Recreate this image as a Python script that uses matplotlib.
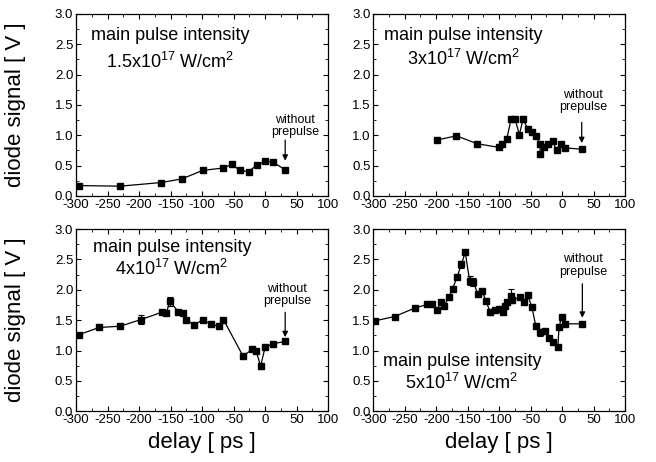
import matplotlib
matplotlib.use("Agg")
import matplotlib.pyplot as plt
from matplotlib.ticker import MultipleLocator

plt.rcParams['font.family'] = ['Liberation Sans', 'DejaVu Sans']
plt.rcParams['mathtext.default'] = 'regular'
plt.rcParams['axes.unicode_minus'] = False

# panel 1: 1.5x10^17 W/cm^2
x1 = [-296, -230, -165, -132, -99, -66, -53, -40, -26, -13, 0, 12, 32]
y1 = [0.17, 0.16, 0.22, 0.28, 0.42, 0.46, 0.52, 0.42, 0.40, 0.51, 0.57, 0.56, 0.43]
e1 = [0, 0, 0, 0, 0, 0, 0, 0.04, 0, 0, 0, 0, 0]

# panel 2: 3x10^17 W/cm^2
x2 = [-199, -168, -135, -101, -95, -88, -81, -75, -68, -62, -55, -48, -42, -35, -35,
      -29, -22, -15, -9, -2, 5, 31]
y2 = [0.92, 0.99, 0.86, 0.80, 0.86, 0.94, 1.27, 1.27, 1.01, 1.27, 1.11, 1.05, 0.99, 0.86, 0.69,
      0.80, 0.86, 0.90, 0.75, 0.85, 0.79, 0.77]
e2 = [0, 0, 0, 0, 0, 0, 0, 0, 0, 0.05, 0, 0, 0, 0, 0.03,
      0, 0, 0, 0, 0, 0, 0]

# panel 3: 4x10^17 W/cm^2
x3 = [-296, -263, -230, -197, -164, -157, -151, -138, -131, -125, -112, -99, -86, -73, -66,
      -35, -20, -14, -7, 0, 12, 32]
y3 = [1.26, 1.38, 1.40, 1.51, 1.63, 1.61, 1.81, 1.64, 1.62, 1.51, 1.42, 1.51, 1.43, 1.40, 1.51,
      0.91, 1.02, 0.99, 0.74, 1.05, 1.11, 1.15]
e3 = [0, 0, 0, 0.07, 0, 0, 0.07, 0, 0, 0, 0, 0, 0, 0, 0,
      0, 0, 0, 0.04, 0, 0, 0]

# panel 4: 5x10^17 W/cm^2
x4 = [-297, -266, -234, -214, -207, -199, -193, -187, -180, -174, -167, -160, -154, -147,
      -141, -134, -127, -121, -114, -107, -101, -94, -91, -87, -82, -79, -67, -61, -55,
      -48, -42, -35, -28, -21, -14, -7, -5, -1, 4, 32]
y4 = [1.49, 1.56, 1.70, 1.76, 1.76, 1.66, 1.80, 1.74, 1.88, 2.02, 2.21, 2.42, 2.62, 2.15,
      2.13, 1.93, 1.98, 1.81, 1.63, 1.66, 1.69, 1.63, 1.74, 1.80, 1.90, 1.83, 1.88, 1.80, 1.92,
      1.71, 1.41, 1.30, 1.32, 1.21, 1.14, 1.05, 1.38, 1.56, 1.44, 1.44]
e4 = [0, 0, 0, 0, 0, 0, 0, 0, 0, 0, 0, 0.06, 0, 0.07,
      0.06, 0, 0, 0, 0.05, 0, 0, 0, 0, 0, 0.12, 0, 0, 0, 0,
      0, 0.05, 0.06, 0, 0, 0, 0, 0, 0, 0, 0]

titulos = ["1.5x10$^{17}$ W/cm$^2$", "3x10$^{17}$ W/cm$^2$",
           "4x10$^{17}$ W/cm$^2$", "5x10$^{17}$ W/cm$^2$"]

fig = plt.figure(figsize=(6.56, 4.62), dpi=100)

# posiciones de los ejes (fracciones de la figura)
W, H = 0.384, 0.394
posiciones = [
    [0.116, 0.576, W, H],
    [0.569, 0.576, W, H],
    [0.116, 0.110, W, H],
    [0.569, 0.110, W, H],
]
datos = [(x1, y1, e1), (x2, y2, e2), (x3, y3, e3), (x4, y4, e4)]

# colocación de textos: (x centro, y linea1, y linea2)
pos_titulo = [(-151, 2.64, 2.20), (-157, 2.64, 2.26), (-148, 2.70, 2.35), (-159, 0.82, 0.46)]
# "without prepulse": (x texto, y base texto, y inicio flecha, y punta flecha)
pos_flecha = [(48, 0.95, 0.92, 0.58), (33, 1.36, 1.21, 0.87),
              (35, 1.71, 1.63, 1.22), (33, 2.20, 2.10, 1.54)]

for i, (pos, (x, y, e)) in enumerate(zip(posiciones, datos)):
    ax = fig.add_axes(pos)
    ax.errorbar(x, y, yerr=e, color='black', lw=0.9, marker='s', ms=4.3,
                capsize=2, elinewidth=0.8, capthick=0.8)
    ax.set_xlim(-300, 100)
    ax.set_ylim(0, 3.0)
    ax.xaxis.set_major_locator(MultipleLocator(50))
    ax.xaxis.set_minor_locator(MultipleLocator(25))
    ax.yaxis.set_major_locator(MultipleLocator(0.5))
    ax.yaxis.set_minor_locator(MultipleLocator(0.25))
    ax.yaxis.set_major_formatter(plt.FuncFormatter(lambda v, p: f"{v:.1f}"))
    ax.tick_params(which='both', direction='in', top=True, right=True,
                   labelsize=9.5, pad=2)
    ax.tick_params(which='major', length=3.5)
    ax.tick_params(which='minor', length=2)
    for s in ax.spines.values():
        s.set_linewidth(0.9)

    # texto de intensidad
    tx, ty1, ty2 = pos_titulo[i]
    ax.text(tx, ty1, "main pulse intensity", fontsize=13, ha='center', va='center')
    ax.text(tx, ty2, titulos[i], fontsize=13, ha='center', va='center')

    # flecha "without prepulse"
    fx, fy, ay0, ay1 = pos_flecha[i]
    ax.text(fx, fy, "without\nprepulse", ha='center', va='bottom', fontsize=9,
            linespacing=1.05)
    ax.annotate("", xy=(x[-1], ay1), xytext=(x[-1], ay0),
                arrowprops=dict(arrowstyle='-|>', color='black', lw=0.9,
                                mutation_scale=8, shrinkA=0, shrinkB=0))

    if i >= 2:
        ax.set_xlabel("delay [ ps ]", fontsize=16, labelpad=4)
    if i % 2 == 0:
        ax.set_ylabel("diode signal [ V ]", fontsize=16)
        ax.yaxis.set_label_coords(-0.2, 0.5)

fig.savefig("out.png", dpi=100)
